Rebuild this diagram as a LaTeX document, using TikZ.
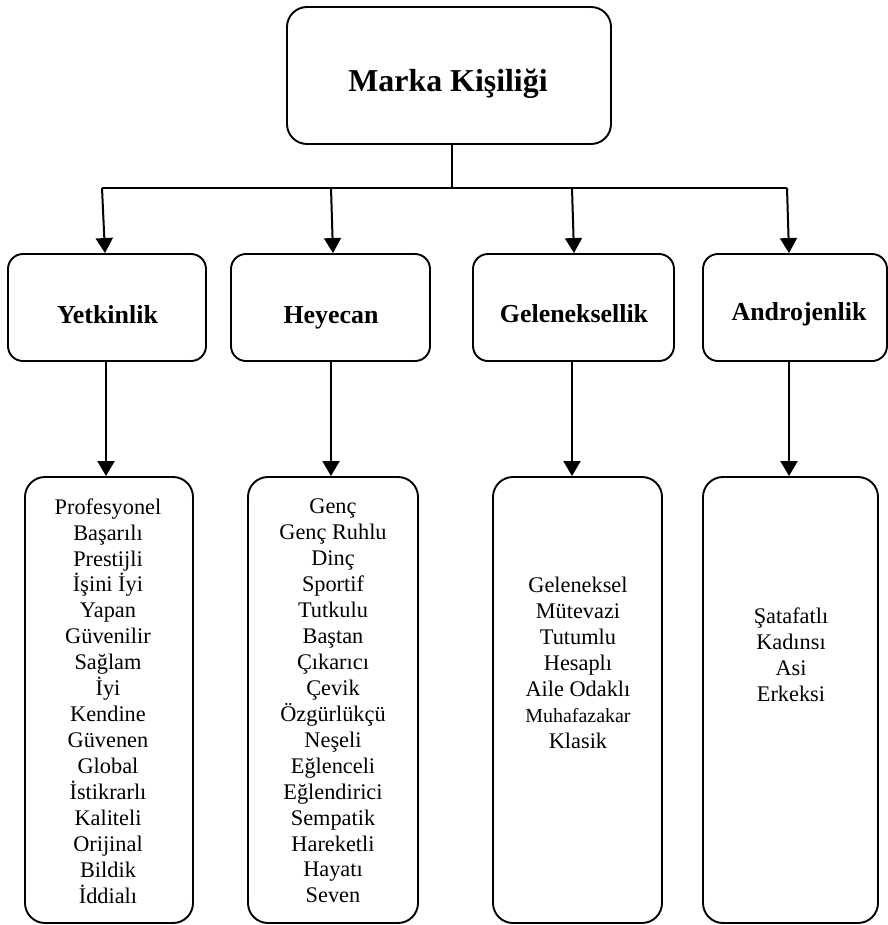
\documentclass[tikz,border=0pt]{standalone}
\usepackage{fontspec}
\setmainfont{Liberation Serif}
\usetikzlibrary{arrows.meta}
\begin{document}
\begin{tikzpicture}[x=1bp,y=-1bp,
  every node/.style={inner sep=0pt},
  frame/.style={draw, line width=1.9bp, rounded corners=#1},
  frame/.default=15bp,
  headtxt/.style={font=\bfseries\fontsize{26}{30}\selectfont, anchor=base},
  listtxt/.style={font=\fontsize{22.4}{26.05}\selectfont, align=center},
  link/.style={line width=2bp},
  arr/.style={line width=2bp, -{Triangle[width=17bp,length=15bp]}}]
\useasboundingbox (0,0) rectangle (888,925);

% root box
\node[frame=20bp, minimum width=324bp, minimum height=137bp] (root) at (449,75.5) {};
\node[font=\bfseries\fontsize{32}{36}\selectfont, anchor=base] (rootlbl) at (448,91) {Marka Kişiliği};

% dimension boxes
\node[frame, minimum width=198bp, minimum height=107bp] (yet) at (107,307.5) {};
\node[frame, minimum width=199bp, minimum height=107bp] (hey) at (330.5,307.5) {};
\node[frame, minimum width=201bp, minimum height=107bp] (gel) at (573.5,307.5) {};
\node[frame, minimum width=184bp, minimum height=107bp] (and) at (795,307.5) {};
\node[headtxt] (yetlbl) at (107.5,323) {Yetkinlik};
\node[headtxt] (heylbl) at (331,323) {Heyecan};
\node[headtxt] (gellbl) at (574,322) {Geleneksellik};
\node[headtxt] (andlbl) at (799,320) {Androjenlik};

% trait boxes
\node[frame=20bp, minimum width=168bp, minimum height=446bp] (b1) at (109,700) {};
\node[frame=20bp, minimum width=170bp, minimum height=446bp] (b2) at (333,700) {};
\node[frame=20bp, minimum width=169bp, minimum height=446bp] (b3) at (577.5,700) {};
\node[frame=20bp, minimum width=175bp, minimum height=446bp] (b4) at (790.5,700) {};

\node[listtxt] (t1) at (108,701) {Profesyonel\\Başarılı\\Prestijli\\İşini İyi\\Yapan\\Güvenilir\\Sağlam\\İyi\\Kendine\\Güvenen\\Global\\İstikrarlı\\Kaliteli\\Orijinal\\Bildik\\İddialı};
\node[listtxt] (t2) at (333,701) {Genç\\Genç Ruhlu\\Dinç\\Sportif\\Tutkulu\\Baştan\\Çıkarıcı\\Çevik\\Özgürlükçü\\Neşeli\\Eğlenceli\\Eğlendirici\\Sempatik\\Hareketli\\Hayatı\\Seven};
\node[listtxt] (t3) at (578,663) {Geleneksel\\Mütevazi\\Tutumlu\\Hesaplı\\Aile Odaklı\\{\fontsize{20}{26.05}\selectfont Muhafazakar}\\Klasik};
\node[listtxt] (t4) at (791,655) {Şatafatlı\\Kadınsı\\Asi\\Erkeksi};

% tree connectors
\coordinate (j) at (452,188);
\coordinate (h1) at (102,188);
\coordinate (h2) at (331,188);
\coordinate (h3) at (572,188);
\coordinate (h4) at (787,188);
\draw[link] (root.south -| j) -- (j);
\draw[link] (h1) -- (h4);
\draw[arr] (h1) -- ([xshift=-2bp]yet.north);
\draw[arr] (h2) -- ([xshift=2.5bp]hey.north);
\draw[arr] (h3) -- ([xshift=0.5bp]gel.north);
\draw[arr] (h4) -- ([xshift=-6bp]and.north);

\draw[arr] ([xshift=-1bp]yet.south) -- ([xshift=-1bp]yet.south |- b1.north);
\draw[arr] ([xshift=0.5bp]hey.south) -- ([xshift=0.5bp]hey.south |- b2.north);
\draw[arr] ([xshift=-1.5bp]gel.south) -- ([xshift=-1.5bp]gel.south |- b3.north);
\draw[arr] ([xshift=-6bp]and.south) -- ([xshift=-6bp]and.south |- b4.north);
\end{tikzpicture}
\end{document}
